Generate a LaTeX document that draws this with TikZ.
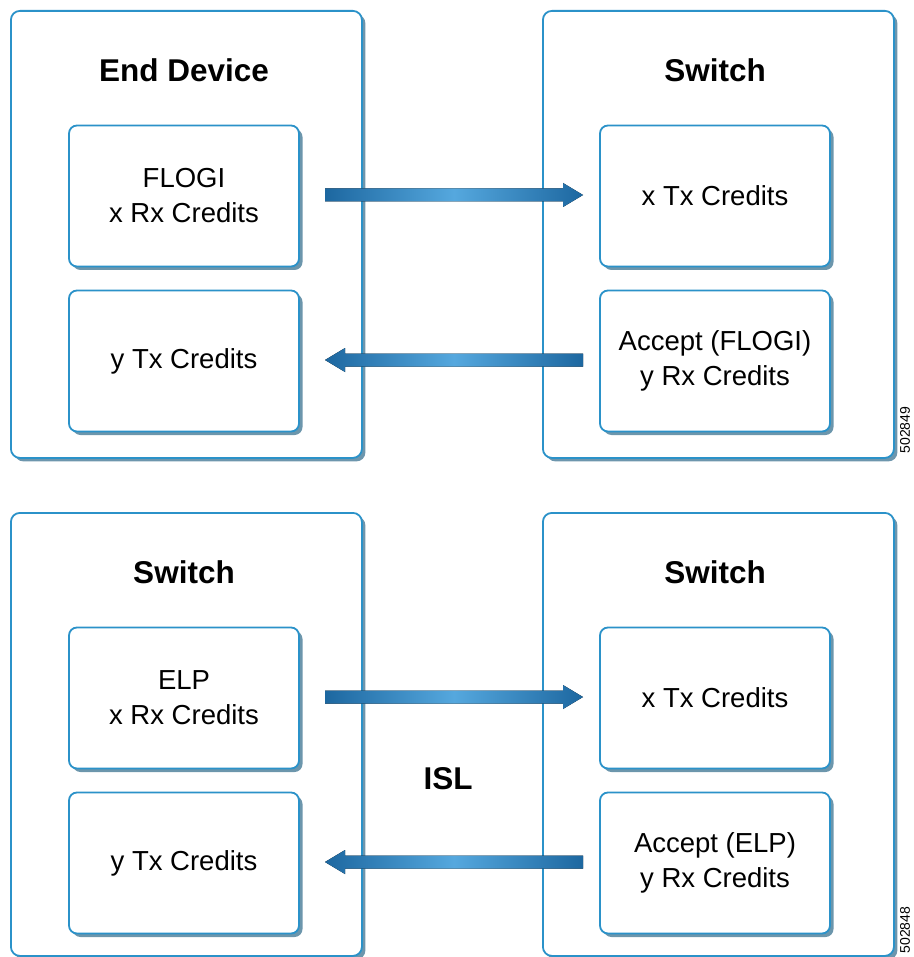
\documentclass[tikz,border=0pt]{standalone}
\usepackage{fontspec}
\setmainfont{Liberation Sans}
\usetikzlibrary{shadows,calc}
\definecolor{edge}{HTML}{2B92C9}
\definecolor{shadowc}{HTML}{2F6A8A}
\definecolor{arrowdark}{HTML}{1D67A0}
\definecolor{arrowlight}{HTML}{55A8DE}
\tikzset{
  boxshadow/.style={drop shadow={shadow xshift=3.5pt, shadow yshift=-3.5pt, fill=shadowc, opacity=0.7}},
  outerbox/.style={draw=edge, line width=1.8pt, rounded corners=9pt, fill=white,
    minimum width=351pt, anchor=north west, boxshadow},
  innerbox/.style={draw=edge, line width=1.8pt, rounded corners=8pt, fill=white,
    minimum width=230pt, minimum height=141pt, align=center,
    font=\fontsize{27.5}{35}\selectfont, boxshadow},
  title/.style={font=\fontsize{31.5}{36}\selectfont\bfseries},
  idtext/.style={font=\fontsize{14}{15}\selectfont, rotate=90},
  arrowshade/.style={left color=arrowdark, right color=arrowdark, middle color=arrowlight}
}
\newcommand\flowarrow[3]{%
  \fill[arrowshade] ($(#1)+(0,-6.5)$) -- ($(#2)+(#3,-6.5)$) -- ($(#2)+(#3,-12)$) -- (#2)
    -- ($(#2)+(#3,12)$) -- ($(#2)+(#3,6.5)$) -- ($(#1)+(0,6.5)$) -- cycle;}
\begin{document}
\begin{tikzpicture}[x=1pt,y=-1pt]
\useasboundingbox (0,0) rectangle (913,957);
% top half
\node[outerbox, minimum height=447pt] (tl) at (10,10) {};
\node[outerbox, minimum height=447pt] (tr) at (542,10) {};
\node[title] (tlt) at (184,70) {End Device};
\node[title] (trt) at (715,70) {Switch};
\node[innerbox] (tl1) at (184,196) {FLOGI\\x Rx Credits};
\node[innerbox] (tl2) at (184,361) {y Tx Credits};
\node[innerbox] (tr1) at (715,196) {x Tx Credits};
\node[innerbox] (tr2) at (715,361) {Accept (FLOGI)\\y Rx Credits};
\coordinate (a1s) at (325,195);
\coordinate (a1e) at (583,195);
\coordinate (a2s) at (583,360);
\coordinate (a2e) at (325,360);
\flowarrow{a1s}{a1e}{-20}
\flowarrow{a2s}{a2e}{20}
\node[idtext] (id1) at (905,430) {502849};
% bottom half
\node[outerbox, minimum height=443pt] (bl) at (10,512) {};
\node[outerbox, minimum height=443pt] (br) at (542,512) {};
\node[title] (blt) at (184,572) {Switch};
\node[title] (brt) at (715,572) {Switch};
\node[innerbox] (bl1) at (184,698) {ELP\\x Rx Credits};
\node[innerbox] (bl2) at (184,863) {y Tx Credits};
\node[innerbox] (br1) at (715,698) {x Tx Credits};
\node[innerbox] (br2) at (715,863) {Accept (ELP)\\y Rx Credits};
\node[title] (isl) at (448,779) {ISL};
\coordinate (b1s) at (325,697);
\coordinate (b1e) at (583,697);
\coordinate (b2s) at (583,862);
\coordinate (b2e) at (325,862);
\flowarrow{b1s}{b1e}{-20}
\flowarrow{b2s}{b2e}{20}
\node[idtext] (id2) at (905,930) {502848};
\end{tikzpicture}
\end{document}
